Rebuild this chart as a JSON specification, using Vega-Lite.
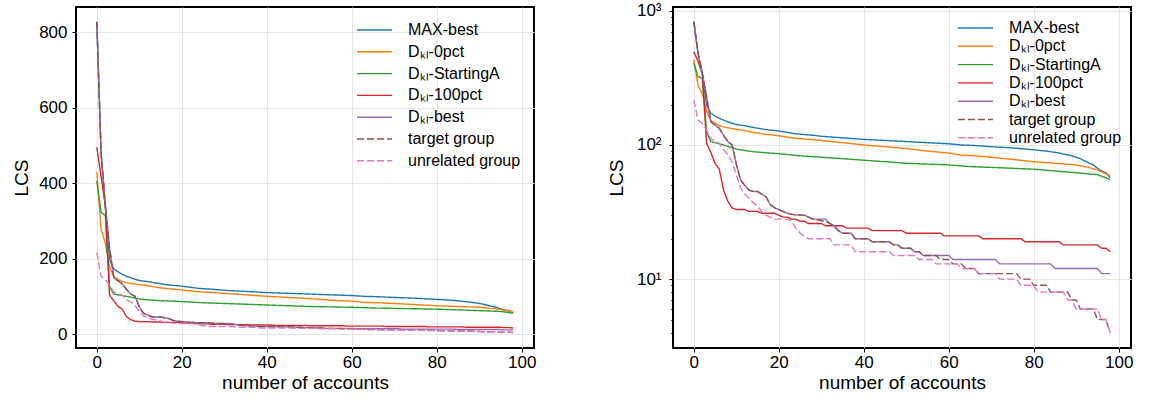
{
"$schema":"https://vega.github.io/schema/vega-lite/v6.json",
"padding":{"left":11,"top":0,"right":5,"bottom":2},
"spacing":69,
"config":{
 "font":"Liberation Sans",
 "view":{"stroke":"black","strokeWidth":2},
 "axis":{"domain":false,"grid":true,"gridColor":"#e6e6e6","gridWidth":1,"tickColor":"black","tickSize":4,"tickWidth":1,"labelColor":"black","labelFontSize":17,"titleFontSize":19,"titleFontWeight":"normal","titleColor":"black","labelPadding":2,"titlePadding":4},
 "legend":{"orient":"none","padding":0,"labelFontSize":16,"labelColor":"black","labelOffset":25.5,"symbolType":"M-3.5,0H3.5","symbolSize":100,"symbolStrokeWidth":1.8}
},
"datasets":{"lcs":[
{"s":"MAX-best","x":0,"y":828},{"s":"MAX-best","x":1,"y":480},{"s":"MAX-best","x":2,"y":340},{"s":"MAX-best","x":3,"y":198},{"s":"MAX-best","x":4,"y":172},{"s":"MAX-best","x":5,"y":165},{"s":"MAX-best","x":6,"y":158},{"s":"MAX-best","x":7,"y":153},{"s":"MAX-best","x":8,"y":149},{"s":"MAX-best","x":9,"y":145},{"s":"MAX-best","x":10,"y":142},{"s":"MAX-best","x":12,"y":139},{"s":"MAX-best","x":14,"y":135},{"s":"MAX-best","x":17,"y":130},{"s":"MAX-best","x":20,"y":127},{"s":"MAX-best","x":24,"y":121},{"s":"MAX-best","x":27,"y":119},{"s":"MAX-best","x":30,"y":116},{"s":"MAX-best","x":35,"y":113},{"s":"MAX-best","x":40,"y":110},{"s":"MAX-best","x":45,"y":108},{"s":"MAX-best","x":50,"y":106},{"s":"MAX-best","x":55,"y":104},{"s":"MAX-best","x":60,"y":102},{"s":"MAX-best","x":63,"y":100},{"s":"MAX-best","x":66,"y":99},{"s":"MAX-best","x":70,"y":97},{"s":"MAX-best","x":75,"y":95},{"s":"MAX-best","x":80,"y":92},{"s":"MAX-best","x":83,"y":90},{"s":"MAX-best","x":86,"y":87},{"s":"MAX-best","x":89,"y":83},{"s":"MAX-best","x":91,"y":79},{"s":"MAX-best","x":92,"y":76},{"s":"MAX-best","x":94,"y":71},{"s":"MAX-best","x":95,"y":67},{"s":"MAX-best","x":96,"y":64},{"s":"MAX-best","x":97,"y":62},{"s":"MAX-best","x":98,"y":57},
{"s":"Dₖₗ-0pct","x":0,"y":430},{"s":"Dₖₗ-0pct","x":1,"y":278},{"s":"Dₖₗ-0pct","x":2,"y":240},{"s":"Dₖₗ-0pct","x":3,"y":178},{"s":"Dₖₗ-0pct","x":4,"y":152},{"s":"Dₖₗ-0pct","x":5,"y":145},{"s":"Dₖₗ-0pct","x":6,"y":139},{"s":"Dₖₗ-0pct","x":8,"y":134},{"s":"Dₖₗ-0pct","x":10,"y":131},{"s":"Dₖₗ-0pct","x":12,"y":128},{"s":"Dₖₗ-0pct","x":14,"y":124},{"s":"Dₖₗ-0pct","x":17,"y":120},{"s":"Dₖₗ-0pct","x":20,"y":117},{"s":"Dₖₗ-0pct","x":24,"y":112},{"s":"Dₖₗ-0pct","x":27,"y":110},{"s":"Dₖₗ-0pct","x":30,"y":108},{"s":"Dₖₗ-0pct","x":35,"y":104},{"s":"Dₖₗ-0pct","x":40,"y":100},{"s":"Dₖₗ-0pct","x":45,"y":97},{"s":"Dₖₗ-0pct","x":50,"y":94},{"s":"Dₖₗ-0pct","x":55,"y":90},{"s":"Dₖₗ-0pct","x":60,"y":87},{"s":"Dₖₗ-0pct","x":63,"y":84},{"s":"Dₖₗ-0pct","x":66,"y":83},{"s":"Dₖₗ-0pct","x":70,"y":81},{"s":"Dₖₗ-0pct","x":75,"y":78},{"s":"Dₖₗ-0pct","x":80,"y":75},{"s":"Dₖₗ-0pct","x":85,"y":73},{"s":"Dₖₗ-0pct","x":90,"y":71},{"s":"Dₖₗ-0pct","x":93,"y":68},{"s":"Dₖₗ-0pct","x":95,"y":65},{"s":"Dₖₗ-0pct","x":97,"y":61},{"s":"Dₖₗ-0pct","x":98,"y":59},
{"s":"Dₖₗ-StartingA","x":0,"y":406},{"s":"Dₖₗ-StartingA","x":1,"y":323},{"s":"Dₖₗ-StartingA","x":2,"y":314},{"s":"Dₖₗ-StartingA","x":3,"y":125},{"s":"Dₖₗ-StartingA","x":4,"y":106},{"s":"Dₖₗ-StartingA","x":5,"y":104},{"s":"Dₖₗ-StartingA","x":7,"y":100},{"s":"Dₖₗ-StartingA","x":10,"y":93},{"s":"Dₖₗ-StartingA","x":14,"y":89},{"s":"Dₖₗ-StartingA","x":20,"y":86},{"s":"Dₖₗ-StartingA","x":25,"y":83},{"s":"Dₖₗ-StartingA","x":30,"y":81},{"s":"Dₖₗ-StartingA","x":35,"y":79},{"s":"Dₖₗ-StartingA","x":40,"y":77},{"s":"Dₖₗ-StartingA","x":45,"y":75},{"s":"Dₖₗ-StartingA","x":50,"y":73},{"s":"Dₖₗ-StartingA","x":55,"y":72},{"s":"Dₖₗ-StartingA","x":60,"y":71},{"s":"Dₖₗ-StartingA","x":65,"y":69},{"s":"Dₖₗ-StartingA","x":70,"y":68},{"s":"Dₖₗ-StartingA","x":75,"y":67},{"s":"Dₖₗ-StartingA","x":80,"y":66},{"s":"Dₖₗ-StartingA","x":85,"y":64},{"s":"Dₖₗ-StartingA","x":90,"y":62},{"s":"Dₖₗ-StartingA","x":95,"y":60},{"s":"Dₖₗ-StartingA","x":97,"y":57},{"s":"Dₖₗ-StartingA","x":98,"y":55},
{"s":"Dₖₗ-100pct","x":0,"y":495},{"s":"Dₖₗ-100pct","x":1,"y":418},{"s":"Dₖₗ-100pct","x":2,"y":340},{"s":"Dₖₗ-100pct","x":3,"y":103},{"s":"Dₖₗ-100pct","x":4,"y":88},{"s":"Dₖₗ-100pct","x":5,"y":73},{"s":"Dₖₗ-100pct","x":6,"y":66},{"s":"Dₖₗ-100pct","x":7,"y":46},{"s":"Dₖₗ-100pct","x":8,"y":38},{"s":"Dₖₗ-100pct","x":9,"y":34},{"s":"Dₖₗ-100pct","x":10,"y":33},{"s":"Dₖₗ-100pct","x":12,"y":33},{"s":"Dₖₗ-100pct","x":13,"y":32},{"s":"Dₖₗ-100pct","x":15,"y":32},{"s":"Dₖₗ-100pct","x":16,"y":31},{"s":"Dₖₗ-100pct","x":19,"y":31},{"s":"Dₖₗ-100pct","x":20,"y":30},{"s":"Dₖₗ-100pct","x":21,"y":29},{"s":"Dₖₗ-100pct","x":22,"y":29},{"s":"Dₖₗ-100pct","x":23,"y":28},{"s":"Dₖₗ-100pct","x":24,"y":28},{"s":"Dₖₗ-100pct","x":25,"y":27},{"s":"Dₖₗ-100pct","x":26,"y":27},{"s":"Dₖₗ-100pct","x":27,"y":26},{"s":"Dₖₗ-100pct","x":30,"y":26},{"s":"Dₖₗ-100pct","x":31,"y":25},{"s":"Dₖₗ-100pct","x":35,"y":25},{"s":"Dₖₗ-100pct","x":36,"y":24},{"s":"Dₖₗ-100pct","x":41,"y":24},{"s":"Dₖₗ-100pct","x":42,"y":23},{"s":"Dₖₗ-100pct","x":49,"y":23},{"s":"Dₖₗ-100pct","x":50,"y":22},{"s":"Dₖₗ-100pct","x":58,"y":22},{"s":"Dₖₗ-100pct","x":59,"y":21},{"s":"Dₖₗ-100pct","x":67,"y":21},{"s":"Dₖₗ-100pct","x":68,"y":20},{"s":"Dₖₗ-100pct","x":77,"y":20},{"s":"Dₖₗ-100pct","x":78,"y":19},{"s":"Dₖₗ-100pct","x":86,"y":19},{"s":"Dₖₗ-100pct","x":87,"y":18},{"s":"Dₖₗ-100pct","x":95,"y":18},{"s":"Dₖₗ-100pct","x":96,"y":17},{"s":"Dₖₗ-100pct","x":97,"y":17},{"s":"Dₖₗ-100pct","x":98,"y":16},
{"s":"Dₖₗ-best","x":0,"y":828},{"s":"Dₖₗ-best","x":1,"y":482},{"s":"Dₖₗ-best","x":2,"y":342},{"s":"Dₖₗ-best","x":3,"y":229},{"s":"Dₖₗ-best","x":4,"y":149},{"s":"Dₖₗ-best","x":5,"y":141},{"s":"Dₖₗ-best","x":6,"y":133},{"s":"Dₖₗ-best","x":7,"y":118},{"s":"Dₖₗ-best","x":8,"y":106},{"s":"Dₖₗ-best","x":9,"y":100},{"s":"Dₖₗ-best","x":10,"y":72},{"s":"Dₖₗ-best","x":11,"y":55},{"s":"Dₖₗ-best","x":12,"y":50},{"s":"Dₖₗ-best","x":13,"y":46},{"s":"Dₖₗ-best","x":14,"y":45},{"s":"Dₖₗ-best","x":15,"y":45},{"s":"Dₖₗ-best","x":16,"y":43},{"s":"Dₖₗ-best","x":17,"y":41},{"s":"Dₖₗ-best","x":18,"y":36},{"s":"Dₖₗ-best","x":19,"y":34},{"s":"Dₖₗ-best","x":20,"y":33},{"s":"Dₖₗ-best","x":21,"y":32},{"s":"Dₖₗ-best","x":22,"y":31},{"s":"Dₖₗ-best","x":24,"y":30},{"s":"Dₖₗ-best","x":26,"y":30},{"s":"Dₖₗ-best","x":27,"y":29},{"s":"Dₖₗ-best","x":28,"y":28},{"s":"Dₖₗ-best","x":31,"y":28},{"s":"Dₖₗ-best","x":32,"y":26},{"s":"Dₖₗ-best","x":33,"y":25},{"s":"Dₖₗ-best","x":34,"y":23},{"s":"Dₖₗ-best","x":35,"y":22},{"s":"Dₖₗ-best","x":37,"y":22},{"s":"Dₖₗ-best","x":38,"y":20},{"s":"Dₖₗ-best","x":41,"y":20},{"s":"Dₖₗ-best","x":42,"y":19},{"s":"Dₖₗ-best","x":46,"y":19},{"s":"Dₖₗ-best","x":47,"y":18},{"s":"Dₖₗ-best","x":48,"y":18},{"s":"Dₖₗ-best","x":49,"y":17},{"s":"Dₖₗ-best","x":51,"y":17},{"s":"Dₖₗ-best","x":52,"y":16},{"s":"Dₖₗ-best","x":53,"y":16},{"s":"Dₖₗ-best","x":54,"y":15},{"s":"Dₖₗ-best","x":60,"y":15},{"s":"Dₖₗ-best","x":61,"y":14},{"s":"Dₖₗ-best","x":71,"y":14},{"s":"Dₖₗ-best","x":72,"y":13},{"s":"Dₖₗ-best","x":84,"y":13},{"s":"Dₖₗ-best","x":85,"y":12},{"s":"Dₖₗ-best","x":95,"y":12},{"s":"Dₖₗ-best","x":96,"y":11},{"s":"Dₖₗ-best","x":98,"y":11},
{"s":"target group","x":0,"y":828},{"s":"target group","x":1,"y":482},{"s":"target group","x":2,"y":342},{"s":"target group","x":3,"y":229},{"s":"target group","x":4,"y":149},{"s":"target group","x":5,"y":141},{"s":"target group","x":6,"y":133},{"s":"target group","x":7,"y":118},{"s":"target group","x":8,"y":106},{"s":"target group","x":9,"y":100},{"s":"target group","x":10,"y":72},{"s":"target group","x":11,"y":55},{"s":"target group","x":12,"y":50},{"s":"target group","x":13,"y":46},{"s":"target group","x":14,"y":45},{"s":"target group","x":15,"y":45},{"s":"target group","x":16,"y":43},{"s":"target group","x":17,"y":41},{"s":"target group","x":18,"y":36},{"s":"target group","x":19,"y":34},{"s":"target group","x":20,"y":33},{"s":"target group","x":21,"y":32},{"s":"target group","x":22,"y":31},{"s":"target group","x":24,"y":30},{"s":"target group","x":26,"y":30},{"s":"target group","x":27,"y":29},{"s":"target group","x":28,"y":28},{"s":"target group","x":31,"y":27},{"s":"target group","x":32,"y":26},{"s":"target group","x":33,"y":25},{"s":"target group","x":34,"y":23},{"s":"target group","x":35,"y":22},{"s":"target group","x":37,"y":22},{"s":"target group","x":38,"y":20},{"s":"target group","x":41,"y":20},{"s":"target group","x":42,"y":19},{"s":"target group","x":46,"y":19},{"s":"target group","x":47,"y":18},{"s":"target group","x":48,"y":18},{"s":"target group","x":49,"y":17},{"s":"target group","x":51,"y":17},{"s":"target group","x":52,"y":16},{"s":"target group","x":53,"y":16},{"s":"target group","x":54,"y":15},{"s":"target group","x":57,"y":15},{"s":"target group","x":58,"y":14},{"s":"target group","x":60,"y":14},{"s":"target group","x":61,"y":13},{"s":"target group","x":63,"y":13},{"s":"target group","x":64,"y":12},{"s":"target group","x":66,"y":12},{"s":"target group","x":67,"y":11},{"s":"target group","x":76,"y":11},{"s":"target group","x":77,"y":10},{"s":"target group","x":79,"y":10},{"s":"target group","x":80,"y":9},{"s":"target group","x":83,"y":9},{"s":"target group","x":84,"y":8},{"s":"target group","x":88,"y":8},{"s":"target group","x":89,"y":7},{"s":"target group","x":90,"y":7},{"s":"target group","x":91,"y":6},{"s":"target group","x":94,"y":6},{"s":"target group","x":95,"y":5},{"s":"target group","x":97,"y":5},{"s":"target group","x":98,"y":4},
{"s":"unrelated group","x":0,"y":216},{"s":"unrelated group","x":1,"y":153},{"s":"unrelated group","x":2,"y":145},{"s":"unrelated group","x":3,"y":129},{"s":"unrelated group","x":4,"y":112},{"s":"unrelated group","x":5,"y":106},{"s":"unrelated group","x":6,"y":103},{"s":"unrelated group","x":7,"y":92},{"s":"unrelated group","x":8,"y":85},{"s":"unrelated group","x":9,"y":75},{"s":"unrelated group","x":10,"y":60},{"s":"unrelated group","x":11,"y":48},{"s":"unrelated group","x":12,"y":43},{"s":"unrelated group","x":13,"y":40},{"s":"unrelated group","x":14,"y":37},{"s":"unrelated group","x":15,"y":35},{"s":"unrelated group","x":16,"y":32},{"s":"unrelated group","x":17,"y":30},{"s":"unrelated group","x":18,"y":29},{"s":"unrelated group","x":19,"y":28},{"s":"unrelated group","x":22,"y":28},{"s":"unrelated group","x":23,"y":27},{"s":"unrelated group","x":24,"y":24},{"s":"unrelated group","x":25,"y":22},{"s":"unrelated group","x":26,"y":21},{"s":"unrelated group","x":27,"y":20},{"s":"unrelated group","x":32,"y":20},{"s":"unrelated group","x":33,"y":18},{"s":"unrelated group","x":37,"y":18},{"s":"unrelated group","x":38,"y":16},{"s":"unrelated group","x":46,"y":16},{"s":"unrelated group","x":47,"y":15},{"s":"unrelated group","x":52,"y":15},{"s":"unrelated group","x":53,"y":14},{"s":"unrelated group","x":56,"y":14},{"s":"unrelated group","x":57,"y":13},{"s":"unrelated group","x":62,"y":13},{"s":"unrelated group","x":63,"y":12},{"s":"unrelated group","x":66,"y":12},{"s":"unrelated group","x":67,"y":11},{"s":"unrelated group","x":71,"y":11},{"s":"unrelated group","x":72,"y":10},{"s":"unrelated group","x":76,"y":10},{"s":"unrelated group","x":77,"y":9},{"s":"unrelated group","x":80,"y":9},{"s":"unrelated group","x":81,"y":8},{"s":"unrelated group","x":87,"y":8},{"s":"unrelated group","x":88,"y":7},{"s":"unrelated group","x":89,"y":7},{"s":"unrelated group","x":90,"y":6},{"s":"unrelated group","x":95,"y":6},{"s":"unrelated group","x":96,"y":5},{"s":"unrelated group","x":97,"y":5},{"s":"unrelated group","x":98,"y":4}
]},
"hconcat":[
{
 "width":458,"height":341,
 "data":{"name":"lcs"},
 "mark":{"type":"line"},
 "encoding":{
  "x":{"field":"x","type":"quantitative","scale":{"domain":[-4.9,102.9],"nice":false,"zero":false},"axis":{"values":[0,20,40,60,80,100],"title":"number of accounts","titlePadding":3}},
  "y":{"field":"y","type":"quantitative","scale":{"domain":[-37,867],"nice":false,"zero":false},"axis":{"values":[0,200,400,600,800],"title":"LCS","labelPadding":5,"titlePadding":7}},
  "color":{"field":"s","type":"nominal","scale":{"domain":["MAX-best","Dₖₗ-0pct","Dₖₗ-StartingA","Dₖₗ-100pct","Dₖₗ-best","target group","unrelated group"],"range":["#1f77b4","#ff7f0e","#2ca02c","#d62728","#9467bd","#8c564b","#e377c2"]},"legend":{"title":null,"orient":"none","legendX":290.5,"legendY":15,"rowPadding":5.8}},
  "strokeDash":{"field":"s","type":"nominal","scale":{"domain":["MAX-best","Dₖₗ-0pct","Dₖₗ-StartingA","Dₖₗ-100pct","Dₖₗ-best","target group","unrelated group"],"range":[[1,0],[1,0],[1,0],[1,0],[1,0],[7,3],[7,3]]},"legend":{"title":null,"orient":"none","legendX":290.5,"legendY":15,"rowPadding":5.8}},
  "strokeWidth":{"field":"s","type":"nominal","scale":{"domain":["MAX-best","Dₖₗ-0pct","Dₖₗ-StartingA","Dₖₗ-100pct","Dₖₗ-best","target group","unrelated group"],"range":[1.4,1.4,1.4,1.4,1.4,2.2,2.2]},"legend":null}
 }
},
{
 "width":458,"height":341,
 "data":{"name":"lcs"},
 "mark":{"type":"line"},
 "encoding":{
  "x":{"field":"x","type":"quantitative","scale":{"domain":[-4.9,102.9],"nice":false,"zero":false},"axis":{"values":[0,20,40,60,80,100],"title":"number of accounts","titlePadding":3}},
  "y":{"field":"y","type":"quantitative","scale":{"type":"log","domain":[3.07,1066],"nice":false},"axis":{"values":[4,5,6,7,8,9,10,20,30,40,50,60,70,80,90,100,200,300,400,500,600,700,800,900,1000],"labelExpr":"datum.value==10?'10¹':datum.value==100?'10²':datum.value==1000?'10³':''","gridOpacity":{"condition":{"test":"datum.value==10||datum.value==100||datum.value==1000","value":1},"value":0},"tickSize":{"condition":{"test":"datum.value==10||datum.value==100||datum.value==1000","value":4},"value":2.2},"title":"LCS","labelPadding":8,"titlePadding":10}},
  "color":{"field":"s","type":"nominal","scale":{"domain":["MAX-best","Dₖₗ-0pct","Dₖₗ-StartingA","Dₖₗ-100pct","Dₖₗ-best","target group","unrelated group"],"range":["#1f77b4","#ff7f0e","#2ca02c","#d62728","#9467bd","#8c564b","#e377c2"]},"legend":{"title":null,"orient":"none","legendX":294.5,"legendY":13,"rowPadding":2.3}},
  "strokeDash":{"field":"s","type":"nominal","scale":{"domain":["MAX-best","Dₖₗ-0pct","Dₖₗ-StartingA","Dₖₗ-100pct","Dₖₗ-best","target group","unrelated group"],"range":[[1,0],[1,0],[1,0],[1,0],[1,0],[7,3],[7,3]]},"legend":{"title":null,"orient":"none","legendX":294.5,"legendY":13,"rowPadding":2.3}},
  "strokeWidth":{"field":"s","type":"nominal","scale":{"domain":["MAX-best","Dₖₗ-0pct","Dₖₗ-StartingA","Dₖₗ-100pct","Dₖₗ-best","target group","unrelated group"],"range":[1.4,1.4,1.4,1.4,1.4,2.2,2.2]},"legend":null}
 }
}
],
"resolve":{"scale":{"x":"independent","y":"independent","color":"independent","strokeDash":"independent","strokeWidth":"independent"},"legend":{"color":"independent","strokeDash":"independent"}}
}
